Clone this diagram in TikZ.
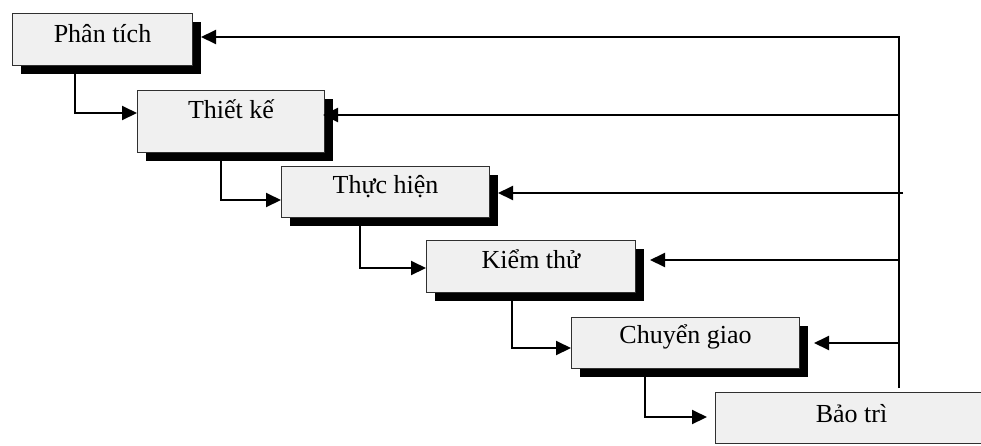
\documentclass[tikz,border=0pt]{standalone}
\usepackage{fontspec}
\setmainfont{Liberation Serif}
\usetikzlibrary{arrows.meta,shadows,calc}
\definecolor{boxfill}{HTML}{F0F0F0}
\definecolor{boxline}{HTML}{303030}
\tikzset{
  stage/.style={draw=boxline, line width=1pt, fill=boxfill, anchor=north west,
    inner xsep=0pt, inner ysep=0pt, minimum height=0pt,
    font=\fontsize{26}{30}\selectfont},
  shadowed/.style={drop shadow={shadow xshift=8pt, shadow yshift=-8pt,
    fill=black, opacity=1}},
  flow/.style={line width=2pt, line join=miter,
    -{Triangle[length=15pt,width=14pt]}},
}
\begin{document}
\begin{tikzpicture}[x=1pt, y=-1pt]
\useasboundingbox (0,0) rectangle (981,445);
\clip (0,0) rectangle (981,445);

% phases, top left to bottom right
\node[stage, shadowed, minimum width=180pt, text height=29pt, text depth=23pt]
  (s1) at (12,13) {Phân tích};
\node[stage, shadowed, minimum width=187pt, text height=28pt, text depth=34pt]
  (s2) at (137,90) {Thiết kế};
\node[stage, shadowed, minimum width=208pt, text height=27pt, text depth=24pt]
  (s3) at (281,166) {Thực hiện};
\node[stage, shadowed, minimum width=209pt, text height=28pt, text depth=24pt]
  (s4) at (426,240) {Kiểm thử};
\node[stage, shadowed, minimum width=228pt, text height=26pt, text depth=25pt]
  (s5) at (571,317) {Chuyển giao};
\node[stage, minimum width=272pt, text height=30pt, text depth=21pt]
  (s6) at (715,392) {Bảo trì};

% forward steps
\coordinate (d1) at (75,113);
\coordinate (d2) at (221,200);
\coordinate (d3) at (360,268);
\coordinate (d4) at (512,348);
\coordinate (d5) at (645,417);
\draw[flow] (s1.south -| d1) -- (d1) -- (d1 -| s2.west);
\draw[flow] (s2.south -| d2) -- (d2) -- (d2 -| s3.west);
\draw[flow] (s3.south -| d3) -- (d3) -- (d3 -| s4.west);
\draw[flow] (s4.south -| d4) -- (d4) -- (d4 -| s5.west);
\draw[flow] (s5.south -| d5) -- (d5) -- ($(d5 -| s6.west)+(-8,0)$);

% feedback from maintenance
\coordinate (bot) at (899,388);
\coordinate (f1) at (899,37);
\coordinate (f2) at (899,115);
\coordinate (f3) at (903,193);
\coordinate (f4) at (899,260);
\coordinate (f5) at (899,343);
\draw[flow] (bot) -- (f1) -- ($(f1 -| s1.east)+(8,0)$);
\draw[flow] (f2) -- ($(f2 -| s2.east)+(-2,0)$);
\draw[flow] (f3) -- ($(f3 -| s3.east)+(8,0)$);
\draw[flow] (f4) -- ($(f4 -| s4.east)+(14,0)$);
\draw[flow] (f5) -- ($(f5 -| s5.east)+(14,0)$);
\end{tikzpicture}
\end{document}
